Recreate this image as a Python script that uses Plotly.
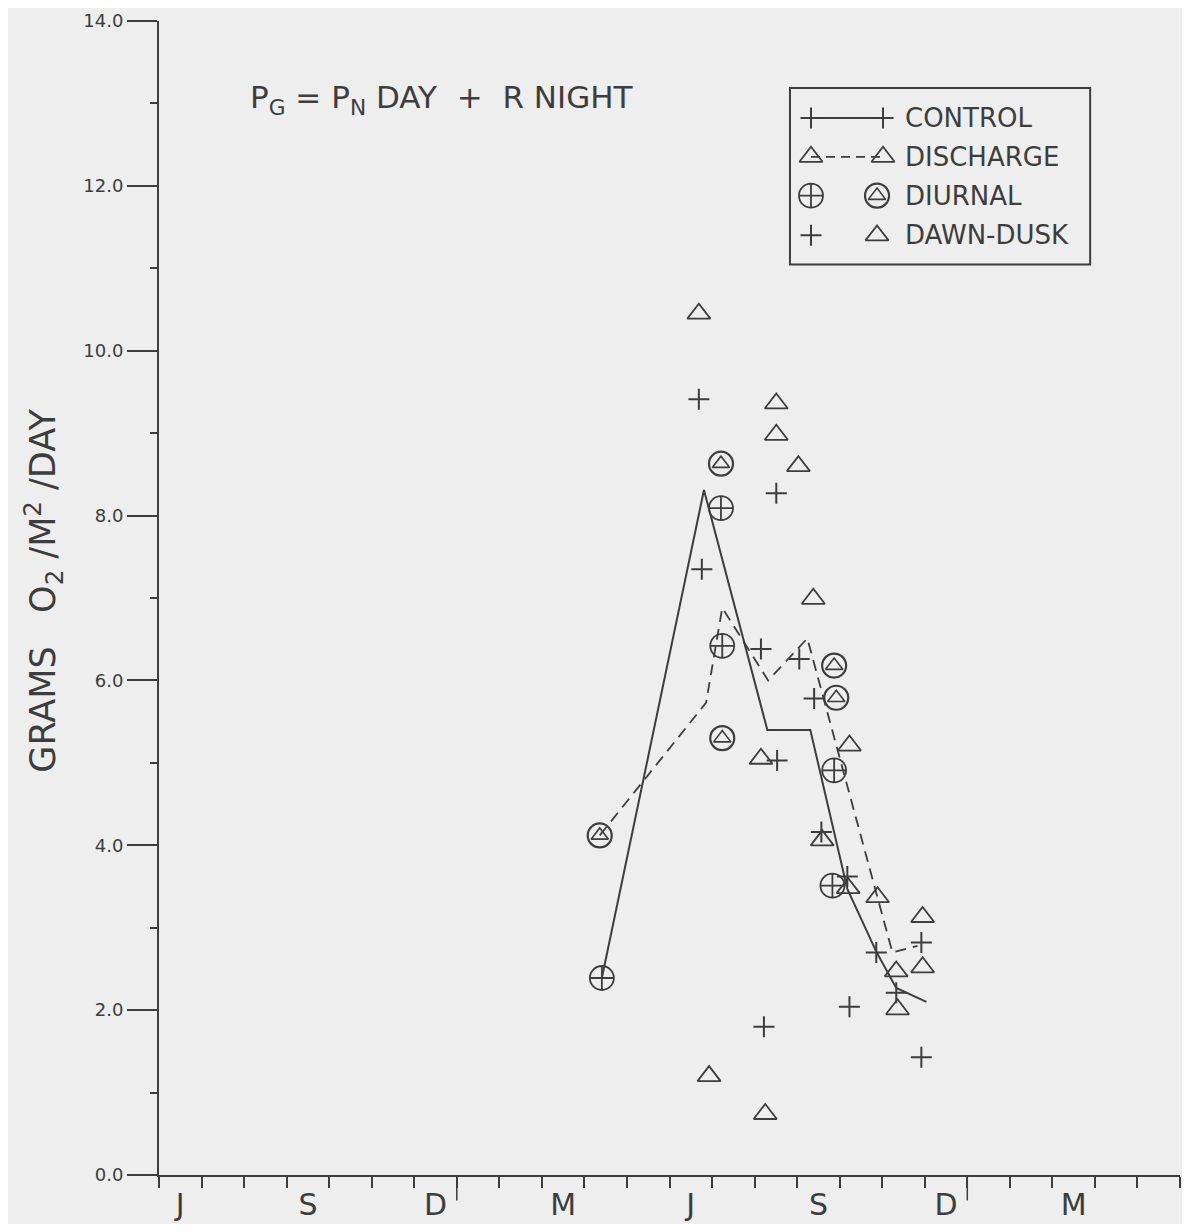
import plotly.graph_objects as go

# ---------------- data (x = months since start of first June) ----------------
month_labels = ["J", "S", "D", "M", "J", "S", "D", "M"]
month_label_pos = [0.5, 3.5, 6.5, 9.5, 12.5, 15.5, 18.5, 21.5]
year_boundaries = [7, 19]

# Control mean line (solid)
control_line_x = [10.41, 12.81, 14.30, 15.31, 16.18, 16.86, 17.33, 18.04]
control_line_y = [2.39, 8.31, 5.40, 5.40, 3.47, 2.71, 2.27, 2.10]

# Discharge mean line (dashed)
discharge_line_x = [10.36, 12.86, 13.24, 14.32, 15.24, 17.24, 17.83]
discharge_line_y = [4.12, 5.73, 6.88, 6.00, 6.51, 2.70, 2.78]

# Diurnal measurements
control_diurnal_x = [10.41, 13.21, 13.24, 15.87, 15.83]
control_diurnal_y = [2.39, 8.09, 6.42, 4.91, 3.51]
discharge_diurnal_x = [10.36, 13.21, 13.24, 15.87, 15.92]
discharge_diurnal_y = [4.12, 8.63, 5.30, 6.18, 5.79]

# Dawn-dusk measurements
control_dd_x = [12.69, 12.76, 14.51, 14.15, 15.05, 15.40, 14.53, 15.57,
                16.18, 16.86, 17.92, 17.33, 16.23, 14.22, 17.92]
control_dd_y = [9.41, 7.35, 8.27, 6.38, 6.26, 5.78, 5.03, 4.16,
                3.62, 2.70, 2.82, 2.21, 2.04, 1.80, 1.43]
discharge_dd_x = [12.69, 14.51, 14.51, 15.03, 15.38, 14.15, 16.23, 15.59,
                  16.20, 16.89, 17.95, 17.33, 17.95, 17.36, 12.93, 14.25]
discharge_dd_y = [10.45, 9.36, 8.98, 8.60, 6.99, 5.05, 5.21, 4.06,
                  3.48, 3.37, 3.13, 2.47, 2.52, 2.01, 1.20, 0.74]

legend_labels = ["CONTROL", "DISCHARGE", "DIURNAL", "DAWN-DUSK"]

# ---------------- style ----------------
INK = "#3d3d3d"
BG = "#eeeeee"
FONT = "DejaVu Sans"

plus_m = dict(symbol="cross-thin-open", size=15, color=INK, line=dict(color=INK, width=2))
tri_m = dict(symbol="triangle-up-open", size=20, color=INK, line=dict(color=INK, width=1.8))
circ_cross_m = dict(symbol="circle-cross-open", size=24, color=INK, line=dict(color=INK, width=1.8))
circ_m = dict(symbol="circle-open", size=24, color=INK, line=dict(color=INK, width=2.2))
small_tri_m = dict(symbol="triangle-up-open", size=15, color=INK, line=dict(color=INK, width=1.6))

fig = go.Figure()

fig.add_trace(go.Scatter(x=control_line_x, y=control_line_y, mode="lines",
                         line=dict(color=INK, width=2), name="CONTROL"))
fig.add_trace(go.Scatter(x=discharge_line_x, y=discharge_line_y, mode="lines",
                         line=dict(color=INK, width=1.8, dash="11px,7px"), name="DISCHARGE"))
fig.add_trace(go.Scatter(x=control_diurnal_x, y=control_diurnal_y, mode="markers",
                         marker=circ_cross_m, name="Control diurnal"))
fig.add_trace(go.Scatter(x=discharge_diurnal_x, y=discharge_diurnal_y, mode="markers",
                         marker=circ_m, name="Discharge diurnal"))
fig.add_trace(go.Scatter(x=discharge_diurnal_x, y=discharge_diurnal_y, mode="markers",
                         marker=small_tri_m, showlegend=False, hoverinfo="skip"))
fig.add_trace(go.Scatter(x=control_dd_x, y=control_dd_y, mode="markers",
                         marker=plus_m, name="Control dawn-dusk"))
fig.add_trace(go.Scatter(x=discharge_dd_x, y=discharge_dd_y, mode="markers",
                         marker=tri_m, name="Discharge dawn-dusk"))

# ---------------- custom legend in an inset axis ----------------
rows_y = [0.83, 0.61, 0.39, 0.165]
sx1, sx2, tx = 0.07, 0.31, 0.375
lg = dict(xaxis="x3", yaxis="y3", showlegend=False, hoverinfo="skip")
fig.add_trace(go.Scatter(x=[sx1, sx2], y=[rows_y[0]] * 2, mode="lines+markers",
                         line=dict(color=INK, width=2), marker=plus_m, **lg))
fig.add_trace(go.Scatter(x=[sx1, sx2], y=[rows_y[1]] * 2, mode="lines+markers",
                         line=dict(color=INK, width=1.8, dash="9px,6px"), marker=tri_m, **lg))
fig.add_trace(go.Scatter(x=[sx1], y=[rows_y[2]], mode="markers", marker=circ_cross_m, **lg))
fig.add_trace(go.Scatter(x=[sx2 - 0.02], y=[rows_y[2]], mode="markers", marker=circ_m, **lg))
fig.add_trace(go.Scatter(x=[sx2 - 0.02], y=[rows_y[2]], mode="markers", marker=small_tri_m, **lg))
fig.add_trace(go.Scatter(x=[sx1], y=[rows_y[3]], mode="markers", marker=plus_m, **lg))
fig.add_trace(go.Scatter(x=[sx2 - 0.02], y=[rows_y[3]], mode="markers", marker=tri_m, **lg))

annotations = []
for lab, ry in zip(legend_labels, rows_y):
    annotations.append(dict(x=tx, y=ry, xref="x3", yref="y3", text=lab, showarrow=False,
                            xanchor="left", yanchor="middle",
                            font=dict(family=FONT, size=26, color=INK)))

annotations.append(dict(x=0.087, y=0.932, xref="paper", yref="paper",
                        text="P<sub>G</sub> = P<sub>N</sub> DAY  +  R NIGHT",
                        showarrow=False, xanchor="left", yanchor="middle",
                        font=dict(family=FONT, size=31, color=INK)))
annotations.append(dict(x=-0.114, y=0.506, xref="paper", yref="paper",
                        text="GRAMS   O<sub>2</sub> /M<sup>2</sup> /DAY", textangle=-90,
                        showarrow=False, xanchor="center", yanchor="middle",
                        font=dict(family=FONT, size=35, color=INK)))

shapes = [dict(type="rect", xref="paper", yref="paper", x0=0.618, x1=0.912,
               y0=0.789, y1=0.942, line=dict(color=INK, width=2))]
for yb in year_boundaries:
    shapes.append(dict(type="line", xref="x", yref="paper", x0=yb, x1=yb,
                       y0=0, y1=-0.022, line=dict(color=INK, width=1.5)))

fig.update_layout(
    width=1174, height=1216,
    margin=dict(l=151, r=2, t=9, b=46),
    paper_bgcolor=BG, plot_bgcolor=BG,
    showlegend=False,
    font=dict(family=FONT, color=INK),
    annotations=annotations,
    shapes=shapes,
    xaxis=dict(range=[0, 24], showgrid=False, zeroline=False,
               showline=True, linecolor=INK, linewidth=2,
               tickvals=month_label_pos, ticktext=month_labels,
               ticks="outside", ticklen=2, tickcolor="rgba(0,0,0,0)",
               tickfont=dict(family=FONT, size=30, color=INK),
               minor=dict(tick0=0, dtick=1, ticks="outside", ticklen=11,
                          tickcolor=INK, tickwidth=1.5)),
    yaxis=dict(range=[0, 14], showgrid=False, zeroline=False,
               showline=True, linecolor=INK, linewidth=2,
               tick0=0, dtick=2, tickformat=".1f", ticklabeloverflow="allow",
               ticks="outside", ticklen=30, tickcolor=INK, tickwidth=1.5,
               tickfont=dict(family=FONT, size=18, color=INK),
               minor=dict(tick0=0, dtick=1, ticks="outside", ticklen=7,
                          tickcolor=INK, tickwidth=1.5)),
    xaxis3=dict(domain=[0.618, 0.912], anchor="y3", range=[0, 1], visible=False),
    yaxis3=dict(domain=[0.789, 0.942], anchor="x3", range=[0, 1], visible=False),
)

fig.write_html("out.html")
